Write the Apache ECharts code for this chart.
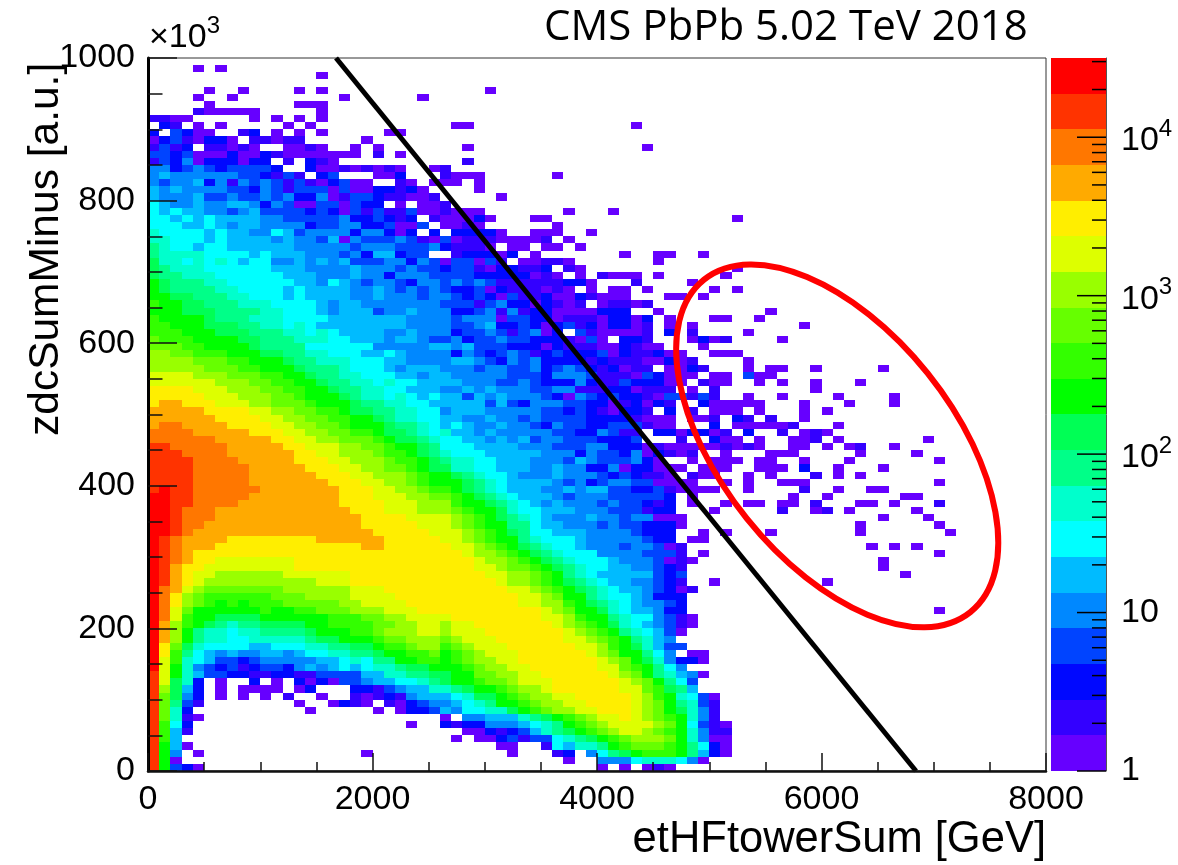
<!DOCTYPE html>
<html>
<head>
<meta charset="utf-8">
<style>html,body{margin:0;background:#fff}#chart{width:1178px;height:865px}</style>
<script src="https://cdn.jsdelivr.net/npm/echarts@6/dist/echarts.min.js"></script>
</head>
<body>
<div id="chart"></div>
<script>
// palette bands, low to high, one letter per band
const LEVELS = 'abcdefghijklmnopqrst';
const PALETTE = ['#6600ff','#3300ff','#0008ff','#0044ff','#0088ff','#00bbff','#00ffff','#00ffcc','#00ff88','#00ff55',
  '#00ff00','#33ff00','#66ff00','#99ff00','#ddff00','#ffee00','#ffaa00','#ff7700','#ff3300','#ff0000'];

// z edges of the colour bands (counts)
const BAND_EDGES = [1,1.68,2.82,4.73,7.94,13.3,22.4,37.6,63.1,106,178,299,501,841,1413,2371,3981,6683,11220,18836,31623];
const Z_TICKS = [2,3,4,5,6,7,8,9,20,30,40,50,60,70,80,90,200,300,400,500,600,700,800,900,2000,3000,4000,5000,6000,7000,8000,9000,20000,30000];
const Z_DECADES = [1,10,100,1000,10000];

// bin widths: 100 GeV by 10 (x10^3 a.u.)
const BIN_X = 100;
const BIN_Y = 10;

// 2D histogram, top row (y=990) first, left column (x=0) first.
// letter = colour band, '.' = empty bin, spaces are only for counting
const ROWS = [
"",
"....a.a...",
".......... .....a",
"",
".....a..a. ...a.a.... .......... a",
"....a..a.. .......a.. ....a",
".....a.... ...aaa",
"....baaaaa .....a",
"bbaa.....a .a.a.a",
".cb.a.a... ..a.a..... .......aa. .......... ...a",
"c.dcaa..bc .a.a.a.... .aa",
"acdbacca.b babb.....a",
"bdbc.bbaba ..aaba..a. a.......a. .......... ....a",
"ddcdaaacaa cbaaaaaaa. b.a",
"bdceacccac c.b.cba... ........b",
"eecdedcddd dc..caabab aba..ab",
"efeeeeeedd cbdb.cd... aac...baaa ......a",
"edeefcebed edbdbacdaa ..ba.aaa.a",
"fefeeeeddc edbdddadaa ccbca....a",
"feeefddedd edecceabdd cbbaab.... .a",
"gfeefeeffe cedaaddadc c.a.aab",
"gfgffeedef ddddcdcadb dbbdaabaaa .......a.. .a",
"ggfgfgffff eedddddecc dcbc.baaac a...aa.... .......... ..a",
"gggffgfeff eeeecddeec cdaad.aaba ......a",
"hggggfgffe egfdeeeece ecac.c.ccc ca..aaa..a",
"hhgggfgfff fefeedfaed ddedbadabb baaaab.a",
"ihggfggfff fffeeeeede eedddecbbb a.aa.aa.a",
"ihhhhggggf gfffeeedec ffcdd..bcc cac.a..... ..a..aa..a",
"jhhghghgfg geefefefdd deecedadda db.aabba.. .....a",
"jihhhggggg gfffeeeefe eededdcddb accbbc.ba. .......... ..a",
"jiihhhgggg ggfffeeefe eceeeddddc ccccaba.a. baaa.a.... .a",
"kjiiihhggg gggffegfed eedceedede dbbbbbbcca ...b....a.",
"kjiiiihhgg ggfgffffee fedededccd acbbbaba.a .aa.a..... a.a",
"kkjjiiihhg ggfgffffee feeedeedcd cadbbcaacb aaa...aa.a",
"lkkjjiiihh hggggfeffe eeeeeedddb deccacbab. abbab",
"kkkjjjiiii hhgggfefff deefeeeccd ebebccaaaa ccc..a.... .....a",
"lkkkkjiiih hhggggffff fffeeeedee eaddccabbb accac.a... aa..a",
"llkkkjjjii hhghgfffff fffeeeedde fccdcacdbc accab.a.a. ........a",
"lllkkkjjji iihhghgfff feefeeecdd edbdeac.db aaaab.c.b. ...a",
"mlllkkkkjj iiihhhggff feffeddecd deddcccbad a.ccb...ac ab....a",
"mmmllkkkkj iiiigggggg eeeeeffefd ddcccacbbb aacbaa...a",
"nnmmlllkkk jjiihhgggf fgfeeeeced cdedbcdccc dacbbcaa.. aaa",
"nnnnmmmllk kkjiihhhgg gffeeeeffe dcedeccccb cbbbaacab. ...a",
"nnnnnmmmll kkkjiiihgg gfefffeeed eeddecdedc bcabb.aacb ...a.aa..a .....a",
"oooonnnmmm llkkjiihhg ggffeffeee eedddceeed bbbadcaaa. aa.daa",
"oooooonnnm mllkkjiihh ghggffffee eddedcccec bbdcccaa.b aa..a.a..a ...a",
"ppppooonnn mmllkkjiih hggfffeefe feeeddeebb bccabbb.a. b........a",
"pppppooonn nmmlkkkjih hghgfgffdf efeeedcaed cdccbaddbd b..a..a... .a....a",
"pqqpppooon nmmmlkkkji ihhggfffff dfdceeeddc cabcacb..c aaaaa...a. ..a...a",
"qqqqqppppo onnmmllkjj iihhggefff eeeeeddcdc baccb.c.b. aaa.a...a. a",
"qqqqqqpppp oonnmmllkk jihhggffee feededdddc cccbaaa.aa b.cb.b..a",
"qrrqqqqppp poonnmmlkk kjiihgfgfe efeedceddc cdddbaa... c.aaaaab.. .a",
"rrrrqqqqqp ppoonnmmll kjjihghffe feeeeeddcc edbb.ccacc ab.c..b.ab a",
"rrrrrrqqqq qppoonnmmm lkjjihggff efefdeeddd cccd...b.. caa.a..aab .a.......a",
"ssrrrrrqqq qqppooonnm mlkkjigggf fffeeeddde ecccabaaaa ababa..aa. a.ab..a",
"sssrrrrqqq qqqppoonnn mllkjihggg fffffeeece ddceacbab. .a...aaa.. ...a....a",
"ssssrrrrqq qqqpppoonn nmllkjihhg gfffeeedfe dddeca..a. aaa.aa..a. ..a....... a",
"ssssrrrrrq qqqqpppoon nmmlkjjhhg gfffeefeec ceaccaaa.a aa..aaa.c. .a...a",
"ssssrrrrrq qqqqqpppoo nnnmlkkjih ggfeeefeee dcdcbba.ba a..a.a...b .a.a",
"ssssrrrrrq qqqqqqpppo onnmlkkkji hgffffedec deeddaaaa. .a.a..aaa. .......... a",
"stssrrrrrr qqqqqqqppp oonnmllkji hgfffeefef fddccdbaaa a..a....b. .a..aa",
"ttssrrrrrq qqqqqqqppp ooonnmmlkj ihgfffedee edddddc.a. .......a.. a......aa",
"ttssrrrrqq qqqqqqqppp pooonnnlkk jihgfefeee deddcbc.a. .a.aa.aa.b ...aa.a... b",
"ttsrrrqqqq qqqqqqqqpp pooonnnmlk kjhggfffee edddbcc... a.....b..a b.a.....a",
"ttsrrrqqqq qqqqqqqqqp pppoooonml kjihgfeeef eedeeaaa.. .......... .....a...a",
"ttsrrqqqqq qqqqqqqqqp ppppooonml kkiigffeee deddccca.. .......... ...a...... a",
"ttsrqqqqqq qqqqqqqqqq pppppooonm lkjiggfffe eeedccc..a .a...a.... ...a...... .a",
"tsrqqqqppp pppppqqqqq qpppppoonm lkkihgggfe eeeedcc.aa",
"tsrqqqpppp pppppppppq qppppppoon mlkjihggfe eedeedab.. .......... ....a.a.a",
"tsrqpppppp pppppppppp ppppppppon nmlkjihggg eeeedddb.a .......... .......... a",
"tsrqppoooo oooppppppp pppppppppo nnmlkjihgg gfeeedaba. .......... .....a",
"tsqppooooo oooppppppp pppppppppo onmmlkjihg gffeedcb.. .......... .....a",
"tsqpoonnnn nnoooooopp pppppppppp oonnmlkihg fffffdcd.. .......... .......a",
"tsqponnnnn nnnnnooopp pppppppppp ponnmlkjih gffeedcb.. a......... a",
"trqonmmmmm mmnnnnnnoo oppppppppp ppoonmlkji hgffedcab.",
"trpnmlllll lmmmnnnnoo oopppppppp pppoonmkki hggfeccc",
"trpnmlklkl llmmmmmnno oooppppppp pppoonnlkj ihgfeedc",
"tromkkkkkk lkkllmmmnn nooopppppp ppppponmkk jhgffecc.. .......... .......... a",
"trolkkjjjj kkkkkklllm mnnooooppp pppppoonlk kihggedba",
"tqnlkjihii jjjjkkllll mmnnoonoop pppppponml kjhgfedba",
"tqnkihhghh iiiijkkkll mnnnoonooo ppppppponm lkihgfda",
"tqnkihhggh hhhhijjkkk lmmnnnmnoo oppppppoon mlkihfe",
"tpmjhggggf fggghhiijj kllmnnlmno ooppppppoo nlkjhfdd",
"tpligfefee ffefgghhii jkkllmklmn oooppppppo nmkkige.aa",
"tolhgfddcd eeeeeffghg iikkllklmn nooppppppp onmkjhecca",
"tokhedcdbc ddcefefgfg hhijjkkklm nnoopppppp oomlkige",
"sokhfddccb bccbbddddf fhhiijjkkm mnnooppppp ponmkihfea",
"sojhc.a..c .a.cacadde ffgghijkkl mmnooopppp pponmkigd",
"snjfc.a.aa aa.ac...cc bdeffhhijk klmnnopppp ppoomljif",
"smjec.a.a. a.b..a..ba bcbefffghj jklmnnoopp ppponlkhgd a",
"smidb..... ...a..acba .bacdeefgh ikklmnnoop ppponmkihd b",
"smhc...... ....a..... a.accdfegg hhjklmnnoo ppponmkjhe b",
"smhba..... .......... ......a.ee fffhijklmn ooponmlkhe b",
"slgc...... .......... ...a..cbcc eeefghiklm noooonmkgd ba",
"slfb...... .......... ........aa cbcdfhijkl mnoonmlkhe bb",
"slf....... .......... .......a.a acdbddghij klmnnnmkhe aa",
"skfa...... .......... .......... .aa..bgfhh iklmmmlkig ca",
"ske.a..... .........a .......... ..a...bc.e gijklllkif ca",
"ska....... .......... .......... .......a.. eeeghhhgea",
"skdca..... .......... .......... .......... a.a.aba"
];

// black cut line and red ellipse drawn on top of the plot
const CUT_LINE = [[1675,1000],[6842,0]];
const ELLIPSE_CENTER = [6140,456];
const ELLIPSE_RX = 213;
const ELLIPSE_RY = 116;
const ELLIPSE_ANGLE = 51.3;

let cells = [];
ROWS.forEach((row,r)=>{
  let s = row.replace(/ /g,'');
  for(let c=0;c<s.length;c++){
    if(s[c]!=='.') cells.push([c*BIN_X,(99-r)*BIN_Y,LEVELS.indexOf(s[c])]);
  }
});

const bands = PALETTE.map((col,i)=>[BAND_EDGES[i],BAND_EDGES[i+1],i]);
const zTicks = Z_TICKS.map(v=>[v,14]).concat(Z_DECADES.map(v=>[v,29]));

function renderCell(params,api){
  let x = api.value(0), y = api.value(1);
  let a = api.coord([x,y+BIN_Y]), b = api.coord([x+BIN_X,y]);
  return {type:'rect',shape:{x:Math.round(a[0]),y:Math.round(a[1]),width:Math.round(b[0])-Math.round(a[0]),height:Math.round(b[1])-Math.round(a[1])},
    style:{fill:PALETTE[api.value(2)]}};
}

function renderBand(params,api){
  let a = api.coord([0,api.value(1)]), b = api.coord([1,api.value(0)]);
  return {type:'rect',shape:{x:a[0],y:Math.round(a[1]),width:b[0]-a[0],height:Math.round(b[1])-Math.round(a[1])},
    style:{fill:PALETTE[api.value(2)]}};
}

function renderZTick(params,api){
  let p = api.coord([1,api.value(0)]);
  return {type:'line',shape:{x1:p[0],y1:p[1],x2:p[0]-api.value(1),y2:p[1]},style:{stroke:'#000',lineWidth:1.5}};
}

function renderEllipse(params,api){
  let p = api.coord(ELLIPSE_CENTER);
  return {type:'ellipse',x:p[0],y:p[1],rotation:-ELLIPSE_ANGLE*Math.PI/180,
    shape:{cx:0,cy:0,rx:ELLIPSE_RX,ry:ELLIPSE_RY},
    style:{fill:null,stroke:'#ff0000',lineWidth:6}};
}

const labelFont = {fontFamily:'Liberation Sans',fontSize:34,color:'#000'};

const chart = echarts.init(document.getElementById('chart'),null,{renderer:'canvas'});
chart.setOption({
  animation:false,
  backgroundColor:'#fff',
  grid:[
    {left:148,top:58,width:898,height:713,show:true,borderColor:'#333',borderWidth:1,backgroundColor:'#fff'},
    {left:1051,top:58,width:55,height:713,show:false}
  ],
  xAxis:[
    {type:'value',gridIndex:0,min:0,max:8000,interval:2000,z:10,splitLine:{show:false},
      axisLine:{show:true,onZero:false,lineStyle:{color:'#111',width:2.5}},
      axisTick:{show:true,inside:true,length:18,lineStyle:{color:'#111',width:1.5}},
      minorTick:{show:true,splitNumber:4,length:9,lineStyle:{color:'#111',width:1.5}},
      axisLabel:{...labelFont,margin:12,showMinLabel:true,showMaxLabel:true,hideOverlap:false,
        alignMinLabel:'center',alignMaxLabel:'center',formatter:v=>String(v)}},
    {type:'value',gridIndex:1,min:0,max:1,show:false}
  ],
  yAxis:[
    {type:'value',gridIndex:0,min:0,max:1000,interval:200,z:10,splitLine:{show:false},
      axisLine:{show:true,onZero:false,lineStyle:{color:'#000',width:3}},
      axisTick:{show:true,inside:true,length:29,lineStyle:{color:'#111',width:1.5}},
      minorTick:{show:true,splitNumber:4,length:14.5,lineStyle:{color:'#111',width:1.5}},
      axisLabel:{...labelFont,margin:13,showMinLabel:true,showMaxLabel:true,hideOverlap:false,
        verticalAlignMinLabel:'middle',verticalAlignMaxLabel:'middle',formatter:v=>String(v)}},
    {type:'log',gridIndex:1,logBase:10,min:1,max:31623,position:'right',z:10,splitLine:{show:false},
      axisLine:{show:true,onZero:false,lineStyle:{color:'#555',width:1}},
      axisTick:{show:false},minorTick:{show:false},
      axisLabel:{...labelFont,margin:15,hideOverlap:false,showMinLabel:true,showMaxLabel:false,
        verticalAlignMinLabel:'middle',
        formatter:v=>{
          let n = Math.round(Math.log10(v));
          if(Math.abs(Math.log10(v)-n)>1e-6 || n>4) return '';
          if(n===0) return '{n|1}';
          if(n===1) return '{n|10}';
          return '{m|10}{s|'+n+'}';
        },
        rich:{n:{...labelFont},m:{...labelFont,lineHeight:40,padding:[7,0,0,0]},
          s:{fontFamily:'Liberation Sans',fontSize:24,color:'#000',verticalAlign:'top',lineHeight:24}}}}
  ],
  series:[
    {type:'custom',name:'cells',xAxisIndex:0,yAxisIndex:0,renderItem:renderCell,data:cells,silent:true,z:2,clip:true},
    {type:'line',name:'cut',xAxisIndex:0,yAxisIndex:0,data:CUT_LINE,showSymbol:false,silent:true,z:4,
      lineStyle:{color:'#000',width:5}},
    {type:'custom',name:'ellipse',xAxisIndex:0,yAxisIndex:0,renderItem:renderEllipse,data:[ELLIPSE_CENTER],silent:true,z:5},
    {type:'custom',name:'bands',xAxisIndex:1,yAxisIndex:1,renderItem:renderBand,data:bands,silent:true,z:2},
    {type:'custom',name:'zticks',xAxisIndex:1,yAxisIndex:1,renderItem:renderZTick,data:zTicks,silent:true,z:6}
  ],
  graphic:[
    {type:'text',left:544,top:7,style:{text:'CMS PbPb 5.02 TeV 2018',font:'42px "Open Sans"',fill:'#000'}},
    {type:'text',left:149,top:14,style:{text:'{a|\u00d710}{b|3}',rich:{a:{fontFamily:'Liberation Sans',fontSize:34,color:'#000',lineHeight:40,padding:[7,0,0,0]},b:{fontFamily:'Liberation Sans',fontSize:24,color:'#000',verticalAlign:'top',lineHeight:24}}}},
    {type:'text',right:132,top:818,style:{text:'etHFtowerSum [GeV]',font:'43.5px "Liberation Sans"',fill:'#000'}},
    {type:'text',x:68,y:436,rotation:Math.PI/2,style:{text:'zdcSumMinus [a.u.]',font:'42.5px "Liberation Sans"',fill:'#000',textAlign:'left',textVerticalAlign:'bottom'}}
  ]
});
</script>
</body>
</html>
